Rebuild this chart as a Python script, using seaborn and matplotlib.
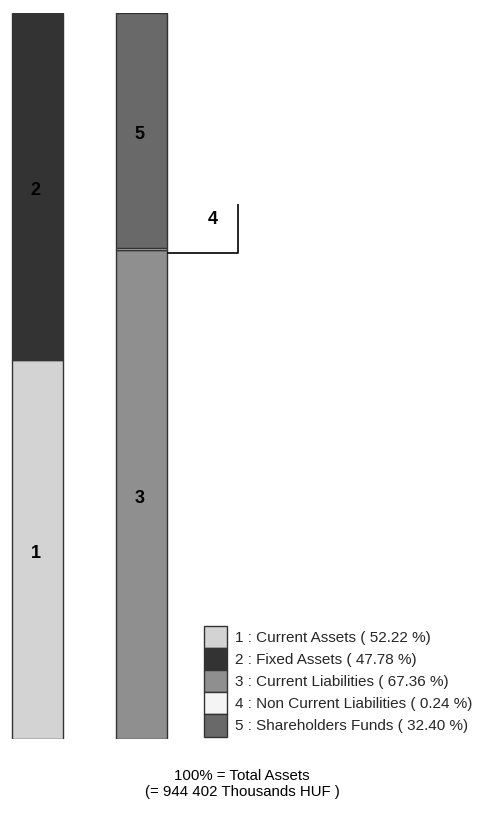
import matplotlib
matplotlib.use("Agg")
import matplotlib.pyplot as plt
import seaborn as sns
import pandas as pd
from matplotlib.patches import Patch

sns.set_theme(style="white")
plt.rcParams['font.family'] = ['Liberation Sans', 'DejaVu Sans']

# ---- data ----
bars = ["Assets", "Liabilities"]
seg_ids = ["1", "2", "3", "4", "5"]
seg_names = ["Current Assets", "Fixed Assets", "Current Liabilities",
             "Non Current Liabilities", "Shareholders Funds"]
seg_bar = ["Assets", "Assets", "Liabilities", "Liabilities", "Liabilities"]
seg_values = [52.22, 47.78, 67.36, 0.24, 32.40]
seg_colors = ["#d3d3d3", "#333333", "#8f8f8f", "#f4f4f4", "#696969"]
footer = "100% = Total Assets\n(= 944 402 Thousands HUF )"

W, H = 484, 821
fig = plt.figure(figsize=(W / 100, H / 100), dpi=100)
fig.patch.set_facecolor("white")
ax = fig.add_axes([0, 82 / H, 1, 726 / H])

bottoms = {b: 0.0 for b in bars}
for sid, name, b, v, c in zip(seg_ids, seg_names, seg_bar, seg_values, seg_colors):
    df = pd.DataFrame({"bar": [b], "value": [v]})
    sns.barplot(data=df, x="bar", y="value", order=bars, color=c,
                bottom=bottoms[b], width=0.49, edgecolor="#333333",
                linewidth=1.0, saturation=1, ax=ax, errorbar=None)
    bottoms[b] += v

ax.set_xlim(-37.5 / 104, (W - 37.5) / 104)
ax.set_ylim(0, 100)
ax.axis("off")
ax.patch.set_alpha(0)

# segment labels
bottoms = {b: 0.0 for b in bars}
for sid, b, v in zip(seg_ids, seg_bar, seg_values):
    xi = bars.index(b)
    mid = bottoms[b] + v / 2
    bottoms[b] += v
    if sid == "4":
        continue
    ax.text(xi - 0.02, mid - 0.6, sid, ha="center", va="center", fontsize=13,
            fontweight="bold", color="black")

# callout for segment 4
y4 = 67.0
ax.plot([1.245, 1.928, 1.928], [y4, y4, 73.7], color="black", lw=1.2,
        solid_capstyle="butt", clip_on=False)
ax.text(1.6875, 71.6, "4", ha="center", va="center", fontsize=13,
        fontweight="bold", color="black")

# legend
handles = [Patch(facecolor=c, edgecolor="#333333", linewidth=1.0)
           for c in seg_colors]
labels = [f"{sid} : {n} ( {v:.2f} %)" for sid, n, v in zip(seg_ids, seg_names, seg_values)]
fig.legend(handles, labels, loc="upper left",
           bbox_to_anchor=(204 / W, 1 - 626 / H), bbox_transform=fig.transFigure,
           frameon=False, fontsize=11, handlelength=1.5, handleheight=1.85,
           labelspacing=0.0, handletextpad=0.5, borderpad=0, borderaxespad=0)

fig.text(0.5, 1 - 784 / H, footer, ha="center", va="center", fontsize=10.8,
         color="black", linespacing=1.1)

fig.savefig("out.png", dpi=100, facecolor="white")
